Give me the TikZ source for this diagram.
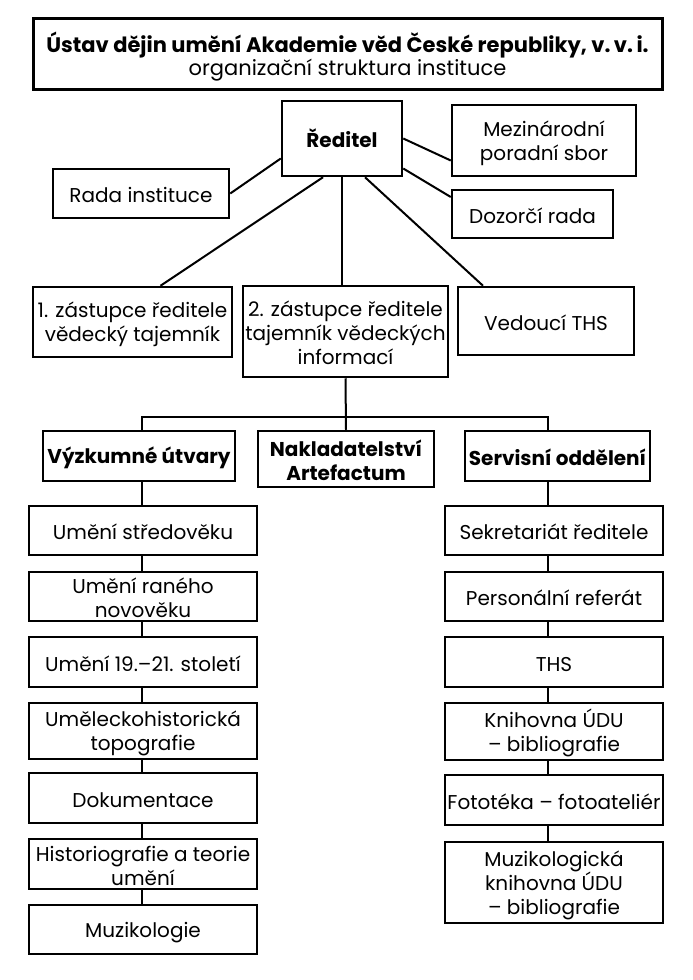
\documentclass[tikz,border=0pt]{standalone}
\usepackage{fontspec}
\setmainfont{Poppins}
% struts: fixed height on the first line, fixed depth on the last line
\newcommand{\bxt}[1]{\rule{0pt}{21pt}#1\rule[-3pt]{0pt}{3pt}}
\newcommand{\ttlt}[1]{\rule{0pt}{26pt}#1\rule[-4pt]{0pt}{4pt}}
\begin{document}
\begin{tikzpicture}[x=1pt,y=-1pt,
  frame/.style={draw, line width=2.5pt, align=center, inner sep=0pt},
  box/.style={frame, font=\fontsize{20}{24}\selectfont},
  bbox/.style={box, font=\fontsize{20}{24}\selectfont\bfseries},
  titlebox/.style={frame, line width=3pt, font=\fontsize{21}{22}\selectfont},
  conn/.style={line width=2pt}]
\useasboundingbox (0,0) rectangle (693,980);
% title
\node[titlebox, minimum width=629pt, minimum height=71pt] (title) at (347.5,53.5)
  {\ttlt{{\bfseries Ústav dějin umění Akademie věd České republiky, v.\,v.\,i.}\\organizační struktura instituce}};
% top level
\node[bbox, minimum width=120pt, minimum height=75pt] (dir) at (342,138.5) {\bxt{Ředitel}};
\node[box, minimum width=184pt, minimum height=71pt] (mez) at (544,140.5) {\bxt{Mezinárodní\\poradní sbor}};
\node[box, minimum width=176pt, minimum height=49pt] (rada) at (141,193.5) {\bxt{Rada instituce}};
\node[box, minimum width=161pt, minimum height=48pt] (dozor) at (532.5,214) {\bxt{Dozorčí rada}};
\node[box, minimum width=199pt, minimum height=70pt] (z1) at (132.5,322) {\bxt{1. zástupce ředitele\\vědecký tajemník}};
\node[box, minimum width=205pt, minimum height=91pt] (z2) at (345.5,331.5) {\bxt{2. zástupce ředitele\\tajemník vědeckých\\informací}};
\node[box, minimum width=176pt, minimum height=68pt] (vth) at (546,321) {\bxt{Vedoucí THS}};
% second level
\node[bbox, minimum width=192pt, minimum height=50pt] (vyz) at (139,456) {\bxt{Výzkumné útvary}};
\node[bbox, minimum width=176pt, minimum height=56pt] (nak) at (346,459) {\bxt{Nakladatelství\\Artefactum}};
\node[bbox, minimum width=185pt, minimum height=50pt] (serv) at (557.5,456) {\bxt{Servisní oddělení}};
% left column
\node[box, minimum width=228pt, minimum height=49pt] (l1) at (143,530.5) {\bxt{Umění středověku}};
\node[box, minimum width=228pt, minimum height=49pt] (l2) at (143,596.5) {\bxt{Umění raného\\novověku}};
\node[box, minimum width=228pt, minimum height=50pt] (l3) at (143,662) {\bxt{Umění 19.–21. století}};
\node[box, minimum width=228pt, minimum height=56pt] (l4) at (143,731) {\bxt{Uměleckohistorická\\topografie}};
\node[box, minimum width=228pt, minimum height=50pt] (l5) at (143,798) {\bxt{Dokumentace}};
\node[box, minimum width=228pt, minimum height=50pt] (l6) at (143,864) {\bxt{Historiografie a teorie\\umění}};
\node[box, minimum width=228pt, minimum height=49pt] (l7) at (143,929.5) {\bxt{Muzikologie}};
% right column
\node[box, minimum width=218pt, minimum height=49pt] (r1) at (554,530.5) {\bxt{Sekretariát ředitele}};
\node[box, minimum width=218pt, minimum height=49pt] (r2) at (554,596.5) {\bxt{Personální referát}};
\node[box, minimum width=218pt, minimum height=50pt] (r3) at (554,662) {\bxt{THS}};
\node[box, minimum width=218pt, minimum height=57pt] (r4) at (554,731.5) {\bxt{Knihovna ÚDU\\– bibliografie}};
\node[box, minimum width=218pt, minimum height=50pt] (r5) at (554,800) {\bxt{Fototéka – fotoateliér}};
\node[box, minimum width=218pt, minimum height=81pt] (r6) at (554,882.5) {\bxt{Muzikologická\\knihovna ÚDU\\– bibliografie}};
% helper coordinates
\coordinate (bus) at (346,417);
\coordinate (ll) at (142,0);
\coordinate (rl) at (548,0);
% connectors from director
\draw[conn] ([yshift=-20pt]dir.west) -- (rada.east);
\draw[conn] (dir.east) -- ([yshift=-20pt]mez.west);
\draw[conn] ([yshift=-30pt]dir.east) -- ([yshift=17pt]dozor.west);
\draw[conn] ([xshift=-19pt]dir.south) -- ([xshift=28pt]z1.north);
\draw[conn] (dir.south) -- (dir.south |- z2.north);
\draw[conn] ([xshift=23pt]dir.south) -- ([xshift=-63pt]vth.north);
% tree
\draw[conn] (z2.south) -- (nak.north);
\draw[conn] (vyz.north -| ll) -- (bus -| ll) -- (bus -| rl) -- (serv.north -| rl);
% columns
\draw[conn] (vyz.south -| ll) -- (l1.north -| ll);
\foreach \a/\b in {l1/l2,l2/l3,l3/l4,l4/l5,l5/l6,l6/l7}
  \draw[conn] (\a.south -| ll) -- (\b.north -| ll);
\draw[conn] (serv.south -| rl) -- (r1.north -| rl);
\foreach \a/\b in {r1/r2,r2/r3,r3/r4,r4/r5,r5/r6}
  \draw[conn] (\a.south -| rl) -- (\b.north -| rl);
\end{tikzpicture}
\end{document}
